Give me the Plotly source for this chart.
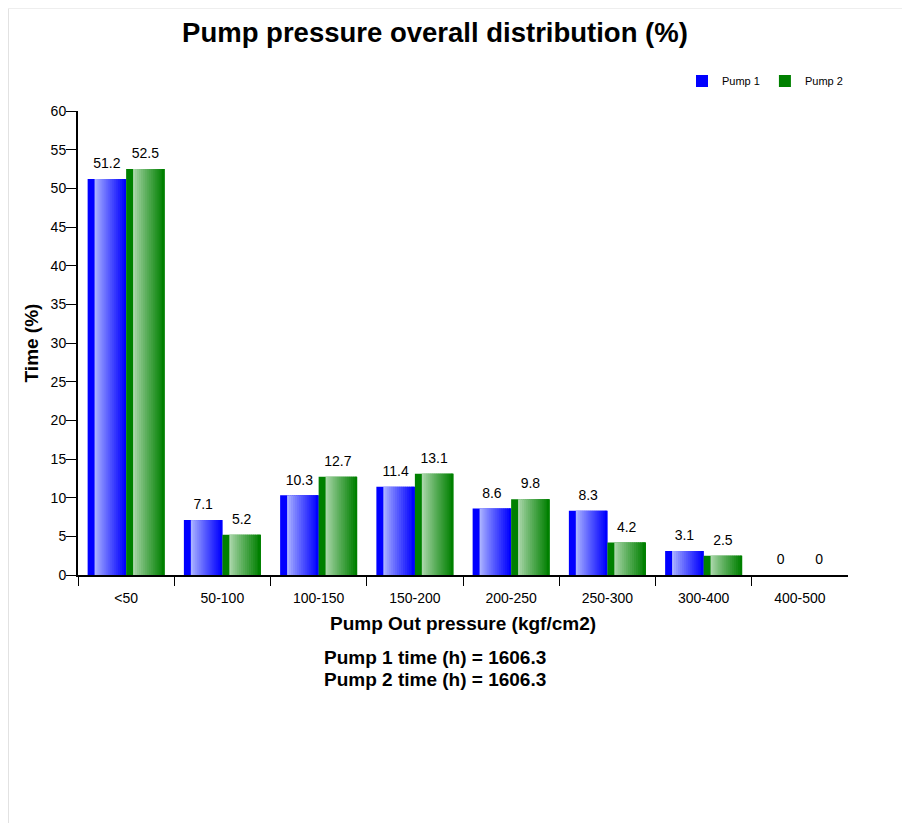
import plotly.graph_objects as go

categories = ["<50", "50-100", "100-150", "150-200", "200-250", "250-300", "300-400", "400-500"]
pump1 = [51.2, 7.1, 10.3, 11.4, 8.6, 8.3, 3.1, 0]
pump2 = [52.5, 5.2, 12.7, 13.1, 9.8, 4.2, 2.5, 0]
series_names = ["Pump 1", "Pump 2"]
pump_hours = [1606.3, 1606.3]
y_ticks = list(range(0, 61, 5))

FONT = "Arial, 'Liberation Sans', sans-serif"
BAR_W = 0.4      # width of one bar in category units
STRIP = 0.18     # fraction of bar that is a solid dark strip
N = 16           # gradient slices

W, H = 902, 815
ML, MR, MT, MB = 70, 62, 103, 248
PW, PH = W - ML - MR, H - MT - MB

styles = [
    dict(dark=(0, 0, 255), light=(170, 178, 255)),
    dict(dark=(0, 128, 0), light=(170, 214, 170)),
]


def rgb(c):
    return "rgb(%d,%d,%d)" % c


def lerp(c1, c2, t):
    return tuple(round(a + (b - a) * t) for a, b in zip(c1, c2))


def px_x(x):
    return (x - ML) / PW


def px_y(y):
    return (MT + PH - y) / PH


xs = list(range(len(categories)))
fig = go.Figure()

for s, (name, vals) in enumerate(zip(series_names, [pump1, pump2])):
    st = styles[s]
    base_off = -BAR_W + s * BAR_W
    fig.add_trace(go.Bar(
        x=xs, y=vals, width=BAR_W, offset=base_off,
        marker=dict(color=rgb(st["dark"]), line=dict(width=0)),
        name=name, legendgroup=name, showlegend=True, hoverinfo="skip",
    ))
    gw = BAR_W * (1 - STRIP)
    step = gw / N
    for k in range(N):
        t = (k / (N - 1)) ** 0.9
        col = lerp(st["light"], st["dark"], t)
        w = step * 1.6 if k < N - 1 else step
        fig.add_trace(go.Bar(
            x=xs, y=vals, width=w, offset=base_off + BAR_W * STRIP + k * step,
            marker=dict(color=rgb(col), line=dict(width=0)),
            legendgroup=name, showlegend=False, hoverinfo="skip",
        ))

for s, vals in enumerate([pump1, pump2]):
    base_off = -BAR_W + s * BAR_W
    fig.add_trace(go.Scatter(
        x=[i + base_off + BAR_W / 2 for i in xs], y=vals,
        mode="markers+text", text=["%g" % v for v in vals],
        textposition="top center",
        marker=dict(size=10, color="rgba(0,0,0,0)"),
        textfont=dict(family=FONT, size=14, color="#000"),
        showlegend=False, hoverinfo="skip",
    ))

annotations = []
for i, (n, h) in enumerate(zip(series_names, pump_hours)):
    annotations.append(dict(
        text="%s time (h) = %g" % (n, h),
        xref="paper", yref="paper", x=px_x(427), y=px_y(649 + 22 * i),
        xanchor="center", yanchor="middle", showarrow=False,
        font=dict(family=FONT, size=19, weight="bold", color="#000"),
    ))

fig.update_layout(
    width=W, height=H,
    margin=dict(l=ML, r=MR, t=MT, b=MB),
    paper_bgcolor="white", plot_bgcolor="white",
    barmode="overlay",
    font=dict(family=FONT, size=14, color="#000"),
    title=dict(text="Pump pressure overall distribution (%)", x=427 / W, xanchor="center",
               y=1 - 24 / H, yanchor="middle",
               font=dict(family=FONT, size=27.5, weight="bold", color="#000")),
    legend=dict(orientation="h", x=1, xanchor="right", y=px_y(73), yanchor="middle",
                font=dict(family=FONT, size=11), bgcolor="rgba(0,0,0,0)"),
    xaxis=dict(
        range=[-0.5, len(categories) - 0.5],
        tickmode="array", tickvals=xs, ticktext=categories,
        ticks="outside", ticklen=9, tickcolor="rgba(0,0,0,0)",
        minor=dict(ticks="outside", tickmode="array", tickvals=[i - 0.5 for i in xs],
                   ticklen=9, tickcolor="#000", tickwidth=1),
        showline=True, linecolor="#000", linewidth=2, showgrid=False, zeroline=False,
        tickfont=dict(family=FONT, size=14),
        title=dict(text="Pump Out pressure (kgf/cm2)", standoff=12,
                   font=dict(family=FONT, size=19, weight="bold")),
    ),
    yaxis=dict(
        range=[0, 60], tickmode="array", tickvals=y_ticks,
        ticks="outside", ticklen=10, tickcolor="#000", tickwidth=1,
        ticklabelstandoff=-3,
        showline=True, linecolor="#000", linewidth=2, showgrid=False, zeroline=False,
        tickfont=dict(family=FONT, size=14),
        title=dict(text="Time (%)", standoff=7,
                   font=dict(family=FONT, size=19, weight="bold")),
    ),
    annotations=annotations,
    shapes=[
        dict(type="line", xref="paper", yref="paper", x0=px_x(0.5), x1=px_x(W),
             y0=px_y(0.5), y1=px_y(0.5), line=dict(color="#eeeeee", width=1)),
        dict(type="line", xref="paper", yref="paper", x0=px_x(0.5), x1=px_x(0.5),
             y0=px_y(0.5), y1=px_y(H), line=dict(color="#e2e2e2", width=1)),
    ],
)

fig.write_html("out.html")
